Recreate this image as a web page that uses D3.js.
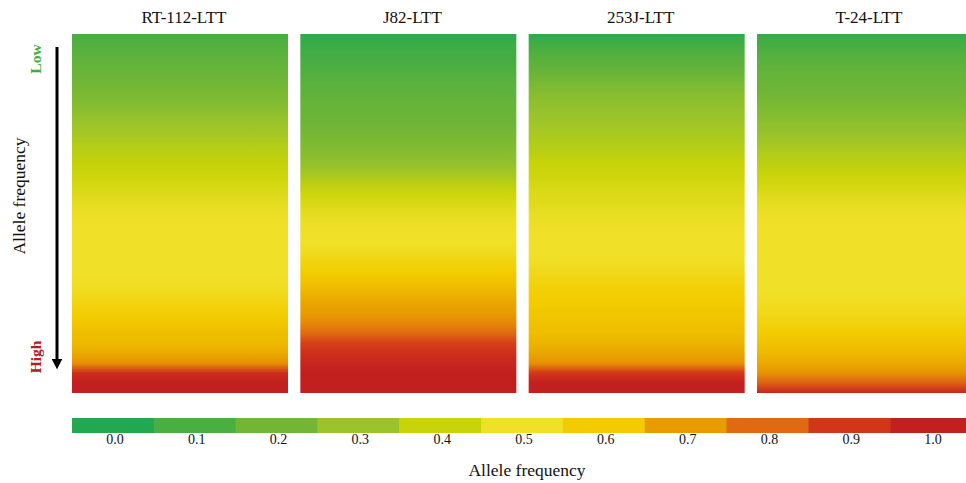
<!DOCTYPE html>
<html>
<head>
<meta charset="utf-8">
<script src="https://cdn.jsdelivr.net/npm/d3@7"></script>
<style>
  body { margin: 0; background: #fff; }
  text { font-family: "Liberation Serif", "DejaVu Serif", serif; fill: #111; }
</style>
</head>
<body>
<svg id="chart" width="966" height="483"></svg>
<script>
// cell lines (panels)
var lines = ['RT-112-LTT', 'J82-LTT', '253J-LTT', 'T-24-LTT'];

// allele frequency read top -> bottom, evenly spaced along each panel
var rt112 = [0.10,0.12,0.14,0.16,0.18,0.20,0.22,0.24,0.27,0.30,0.32,0.35,0.37,0.39,0.41,0.43,0.45,0.47,0.49,0.50,
             0.50,0.50,0.50,0.50,0.50,0.51,0.53,0.56,0.59,0.61,0.63,0.64,0.67,0.72,0.93,1.00,1.00];
var j82   = [0.03,0.06,0.08,0.10,0.12,0.14,0.15,0.17,0.18,0.19,0.21,0.23,0.25,0.28,0.32,0.37,0.41,0.44,0.47,0.49,
             0.50,0.50,0.53,0.57,0.60,0.62,0.65,0.68,0.70,0.74,0.80,0.88,0.93,0.97,1.00,1.00,1.00];
var j253  = [0.03,0.08,0.12,0.15,0.18,0.22,0.25,0.27,0.29,0.31,0.33,0.35,0.37,0.40,0.41,0.43,0.45,0.46,0.48,0.49,
             0.50,0.50,0.50,0.51,0.54,0.57,0.59,0.60,0.61,0.62,0.63,0.65,0.68,0.72,0.90,1.00,1.00];
var t24   = [0.05,0.09,0.12,0.15,0.17,0.18,0.20,0.22,0.24,0.27,0.29,0.32,0.35,0.37,0.40,0.42,0.45,0.47,0.49,0.50,
             0.50,0.50,0.50,0.50,0.50,0.50,0.50,0.52,0.54,0.57,0.60,0.62,0.64,0.67,0.72,0.82,0.98];
var panelValues = [rt112, j82, j253, t24];

// legend
var legendTicks = [0.0,0.1,0.2,0.3,0.4,0.5,0.6,0.7,0.8,0.9,1.0];
var legendColors = ['#22a84e','#4aae42','#72b636','#9cc42a','#c8d408','#f0e028',
                    '#f2cc00','#e89c00','#e06a12','#d2361a','#c21f1f'];

var svg = d3.select('#chart');

var color = d3.scaleLinear().domain(legendTicks).range(legendColors);

var x = d3.scaleBand().domain(lines).range([72, 973]).paddingInner(0.054);
var panelTop = 34, panelBottom = 393;

var defs = svg.append('defs');

lines.forEach(function(name, k){
    var vals = panelValues[k];
    var off = d3.scaleLinear().domain([0, vals.length - 1]).range([0, 100]);
    var g = defs.append('linearGradient')
        .attr('id', 'grad' + k)
        .attr('x1', 0).attr('y1', 0).attr('x2', 0).attr('y2', 1);
    g.selectAll('stop')
        .data(vals)
        .enter()
        .append('stop')
        .attr('offset', function(d, i){ return off(i) + '%'; })
        .attr('stop-color', function(d){ return color(d); });
});

svg.selectAll('rect.panel')
    .data(lines)
    .enter()
    .append('rect')
    .attr('class', 'panel')
    .attr('x', function(d){ return x(d); })
    .attr('y', panelTop)
    .attr('width', x.bandwidth())
    .attr('height', panelBottom - panelTop)
    .attr('fill', function(d, i){ return 'url(#grad' + i + ')'; });

svg.selectAll('text.title')
    .data(lines)
    .enter()
    .append('text')
    .attr('class', 'title')
    .attr('x', function(d){ return x(d) + x.bandwidth() / 2 + 4; })
    .attr('y', 23)
    .attr('text-anchor', 'middle')
    .style('font-size', '17px')
    .text(function(d){ return d; });

// left arrow and labels
defs.append('marker')
    .attr('id', 'arrow')
    .attr('viewBox', '0 0 10 10')
    .attr('refX', 5).attr('refY', 5)
    .attr('markerWidth', 3.6).attr('markerHeight', 3.6)
    .attr('orient', 'auto')
    .append('path')
    .attr('d', 'M0,0L10,5L0,10Z')
    .attr('fill', '#000');

svg.append('line')
    .attr('x1', 57).attr('x2', 57)
    .attr('y1', 47).attr('y2', 364)
    .attr('stroke', '#000')
    .attr('stroke-width', 3)
    .attr('marker-end', 'url(#arrow)');

svg.append('text')
    .attr('transform', 'translate(41,59) rotate(-90)')
    .attr('text-anchor', 'middle')
    .style('font-size', '15.5px')
    .style('font-weight', 'bold')
    .style('fill', '#3fae3a')
    .text('Low');

svg.append('text')
    .attr('transform', 'translate(41,357) rotate(-90)')
    .attr('text-anchor', 'middle')
    .style('font-size', '15.5px')
    .style('font-weight', 'bold')
    .style('fill', '#b0201e')
    .text('High');

svg.append('text')
    .attr('transform', 'translate(25,196) rotate(-90)')
    .attr('text-anchor', 'middle')
    .style('font-size', '17.5px')
    .text('Allele frequency');

// colour legend
var lx = d3.scaleBand().domain(legendTicks).range([72, 972]);

svg.selectAll('rect.key')
    .data(legendTicks)
    .enter()
    .append('rect')
    .attr('class', 'key')
    .attr('x', function(d){ return lx(d); })
    .attr('y', 418)
    .attr('width', lx.bandwidth() + 0.5)
    .attr('height', 15)
    .attr('fill', function(d, i){ return legendColors[i]; });

svg.selectAll('text.key')
    .data(legendTicks)
    .enter()
    .append('text')
    .attr('class', 'key')
    .attr('x', function(d){ return lx(d) + lx.bandwidth() / 2 + 2; })
    .attr('y', 444)
    .attr('text-anchor', 'middle')
    .style('font-size', '14px')
    .text(function(d){ return d3.format('.1f')(d); });

svg.append('text')
    .attr('x', 527)
    .attr('y', 476)
    .attr('text-anchor', 'middle')
    .style('font-size', '17.5px')
    .text('Allele frequency');
</script>
</body>
</html>
